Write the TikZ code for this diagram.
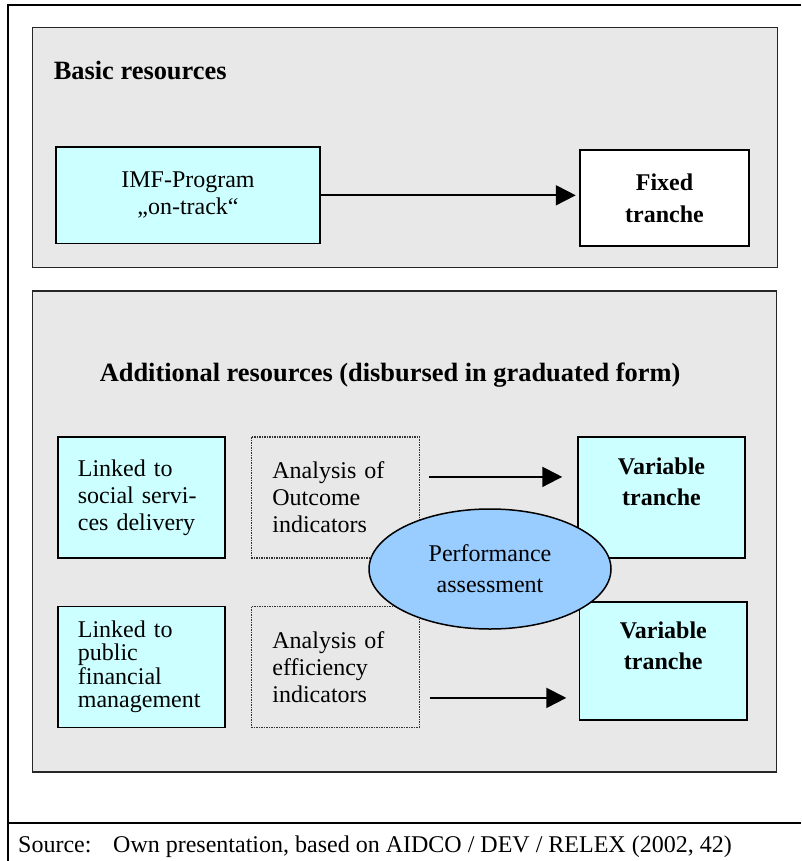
\documentclass[tikz,border=0pt]{standalone}
\usepackage{fontspec}
\setmainfont{Liberation Serif}
\usepackage{xcolor}
\usepackage{tikz}
\usetikzlibrary{shapes.geometric, arrows.meta, positioning, calc}

\definecolor{panelgray}{RGB}{232,232,232}
\definecolor{lightcyan}{RGB}{204,255,255}
\definecolor{paleblue}{RGB}{153,204,255}

\newcommand{\diagfont}{\fontsize{24pt}{27pt}\selectfont}
\newcommand{\headfont}{\fontsize{26.4pt}{30pt}\selectfont\bfseries}

\tikzstyle{panel} = [rectangle, draw=black!85, line width=1.5pt, fill=panelgray, inner sep=0pt]
\tikzstyle{heading} = [anchor=base west, inner sep=0pt, font=\headfont]
\tikzstyle{linkbox} = [rectangle, draw=black, line width=1.5pt, fill=lightcyan, minimum height=121pt, text width=127pt, inner xsep=20pt, align=left, font=\diagfont]
\tikzstyle{analysis} = [rectangle, draw=black!80, densely dotted, line width=1.5pt, minimum height=121pt, text width=126pt, inner xsep=21pt, align=left, font=\diagfont]
\tikzstyle{tranche} = [rectangle, draw=black, line width=1.5pt, fill=lightcyan, minimum width=167pt, minimum height=120pt, align=center, font=\fontsize{24pt}{31pt}\selectfont\bfseries]
\tikzstyle{assess} = [ellipse, draw=black, line width=1.5pt, fill=paleblue, minimum width=242pt, minimum height=120pt, inner sep=0pt, align=center, font=\fontsize{24pt}{31pt}\selectfont]
\tikzstyle{arrow} = [line width=2pt, -{Triangle[length=20pt, width=20pt]}]
\tikzstyle{frame} = [line width=2pt]

\begin{document}
\begin{tikzpicture}[x=1pt, y=-1pt]
\useasboundingbox (0,0) rectangle (801,861);

% outer frame
\draw [frame] (801,4.7) -- (8.3,4.7) -- (8.3,861);
\draw [frame] (8.3,822.7) -- (801,822.7);

% basic resources
\node (basicpanel) [panel, minimum width=745pt, minimum height=240.4pt] at (405.2,147.5) {};
\node (basictitle) [heading] at (53.6,80) {Basic resources};
\node (imf) [rectangle, draw=black, line width=1.5pt, fill=lightcyan, minimum width=264pt, minimum height=96.7pt, align=center, font=\diagfont] at (188,195.3) {IMF-Program\\„on-track“};
\node (fixed) [tranche, fill=white, minimum width=169pt, minimum height=96pt, font=\fontsize{24pt}{32pt}\selectfont\bfseries] at (664.5,198) {Fixed\\tranche};

\draw [arrow, shorten >=3.5pt] (imf.east) -- (imf.east -| fixed.west);

% additional resources
\node (addpanel) [panel, minimum width=744pt, minimum height=480.7pt] at (404.7,531.4) {};
\node (addtitle) [heading] at (99.6,381.7) {Additional resources (disbursed in graduated form)};

\node (social) [linkbox] at (141.4,497.4) {Linked to\\social servi-\\ces delivery};
\node (outcome) [analysis, right=25pt of social] {Analysis of\\Outcome\\indicators};
\node (public) [linkbox, below=47pt of social, font=\fontsize{24pt}{23.5pt}\selectfont] {Linked to\\public\\financial\\management};
\node (efficiency) [analysis, below=47pt of outcome] {Analysis of\\efficiency\\indicators};

\node (var1) [tranche, minimum height=120.7pt] at (661.5,497.4) {Variable\\tranche\\~};
\node (var2) [tranche, minimum width=167.5pt, minimum height=118pt] at (663.3,661) {Variable\\tranche\\~};

\node (perf) [assess] at (490,569) {Performance\\assessment};

\coordinate (out1) at ([xshift=9pt, yshift=20.5pt]outcome.east);
\coordinate (out2) at ([xshift=10pt, yshift=-31pt]efficiency.east);
\draw [arrow, shorten >=15pt] (out1) -- (out1 -| var1.west);
\draw [arrow, shorten >=12.5pt] (out2) -- (out2 -| var2.west);

% source line
\node (source) [anchor=base west, inner sep=0pt, font=\diagfont] at (18,852) {\makebox[95pt][l]{Source:}Own presentation, based on AIDCO / DEV / RELEX (2002, 42)};
\end{tikzpicture}
\end{document}
